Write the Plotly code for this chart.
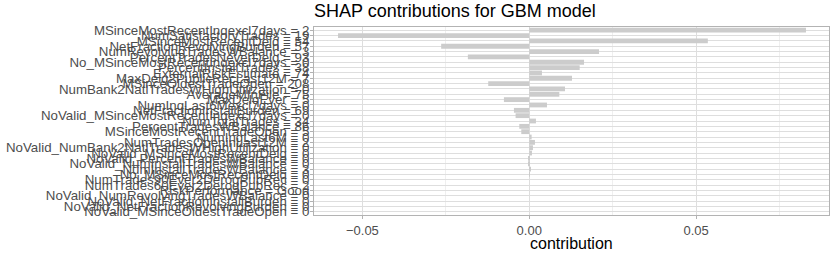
import plotly.graph_objects as go

features = [
    "MSinceMostRecentInqexcl7days = 2",
    "NumSatisfactoryTrades = 19",
    "MSinceMostRecentDelq = 54",
    "NetFractionRevolvingBurden = 57",
    "NumRevolvingTradesWBalance = 3",
    "PercentTradesNeverDelq = 93",
    "No_MSinceMostRecentInqexcl7days = 0",
    "PercentInstallTrades = 38",
    "ExternalRiskEstimate = 74",
    "MaxDelq2PublicRecLast12M = 7",
    "MSinceOldestTradeOpen = 208",
    "NumBank2NatlTradesWHighUtilization = 0",
    "AverageMInFile = 75",
    "MaxDelqEver = 5",
    "NumInqLast6Mexcl7days = 0",
    "NetFractionInstallBurden = 69",
    "NoValid_MSinceMostRecentInqexcl7days = 0",
    "NumTotalTrades = 34",
    "PercentTradesWBalance = 86",
    "MSinceMostRecentTradeOpen = 5",
    "NumInqLast6M = 0",
    "NumTradesOpeninLast12M = 2",
    "NoValid_NumBank2NatlTradesWHighUtilization = 0",
    "NoValid_MSinceMostRecentDelq = 0",
    "NoValid_PercentTradesWBalance = 0",
    "NoValid_NumInstallTradesWBalance = 0",
    "NumInstallTradesWBalance = 3",
    "No_MSinceMostRecentDelq = 0",
    "NumTrades90Ever2DerogPubRec = 0",
    "NumTrades60Ever2DerogPubRec = 2",
    "RiskPerformance = Good",
    "NoValid_NumRevolvingTradesWBalance = 0",
    "NoValid_NetFractionInstallBurden = 0",
    "NoValid_NetFractionRevolvingBurden = 0",
    "NoValid_MSinceOldestTradeOpen = 0",
]

contributions = [
    0.0829, -0.0573, 0.0535, -0.0264, 0.0209, -0.0184, 0.0164, 0.0151,
    0.0038, 0.0128, -0.0123, 0.0107, 0.0090, -0.0076, 0.0053, -0.0046,
    -0.0041, 0.0020, -0.0030, -0.0024, 0.0007, 0.0017, 0.0011, 0.0008,
    -0.0003, -0.0003, 0.0005, 0.0002, 0.0, 0.0, 0.0, 0.0, 0.0, 0.0, 0.0,
]

x_ticks = [-0.05, 0.0, 0.05]
x_tick_labels = ["\u22120.05", "0.00", "0.05"]

fig = go.Figure()
fig.add_trace(go.Bar(
    x=contributions,
    y=features,
    orientation="h",
    marker=dict(color="#CCCCCC", line=dict(width=0)),
    showlegend=False,
))

W, H = 830, 253
ML, MR, MT, MB = 314, 1, 27, 38
panel_h = H - MT - MB
n = len(features)
fig.update_layout(
    width=W, height=H,
    margin=dict(l=ML, r=MR, t=MT, b=MB, autoexpand=False),
    paper_bgcolor="white",
    plot_bgcolor="white",
    bargap=0.1,
    font=dict(family="Liberation Sans, Arial, sans-serif"),
    title=dict(
        text="SHAP contributions for GBM model",
        x=314 / W, xanchor="left", xref="container",
        y=1 - 11 / H, yanchor="middle", yref="container",
        font=dict(size=18, color="#000000"),
    ),
    annotations=[dict(
        text="contribution", x=0.5, xref="paper", xanchor="center",
        y=(H - 243 - MB) / panel_h, yref="paper", yanchor="middle",
        showarrow=False,
        font=dict(size=16, color="#000000"),
    )],
)

fig.update_xaxes(
    automargin=False,
    range=[-0.0645, 0.0898],
    tickmode="array", tickvals=x_ticks, ticktext=x_tick_labels,
    tickfont=dict(size=13, color="#4D4D4D"),
    ticks="outside", ticklen=3, tickcolor="#B3B3B3",
    showgrid=True, gridcolor="#DEDEDE", gridwidth=1,
    minor=dict(tickvals=[-0.025, 0.025, 0.075], showgrid=True,
               gridcolor="#EFEFEF", gridwidth=0.6, ticks=""),
    zeroline=False,
    showline=True, linecolor="#B3B3B3", linewidth=1, mirror=True,
)
fig.update_yaxes(
    automargin=False,
    type="category",
    categoryorder="array", categoryarray=features,
    tickmode="array", tickvals=features, ticktext=features,
    range=[n - 1 + 0.6, -0.6],
    tickfont=dict(size=13.3, color="#4D4D4D"),
    ticks="outside", ticklen=3, tickcolor="#B3B3B3",
    showgrid=True, gridcolor="#DEDEDE", gridwidth=1,
    zeroline=False,
    showline=True, linecolor="#B3B3B3", linewidth=1, mirror=True,
    ticklabelstandoff=-2,
)

fig.write_html("out.html", config={"displayModeBar": False},
               post_script="document.body.style.margin='0';")
